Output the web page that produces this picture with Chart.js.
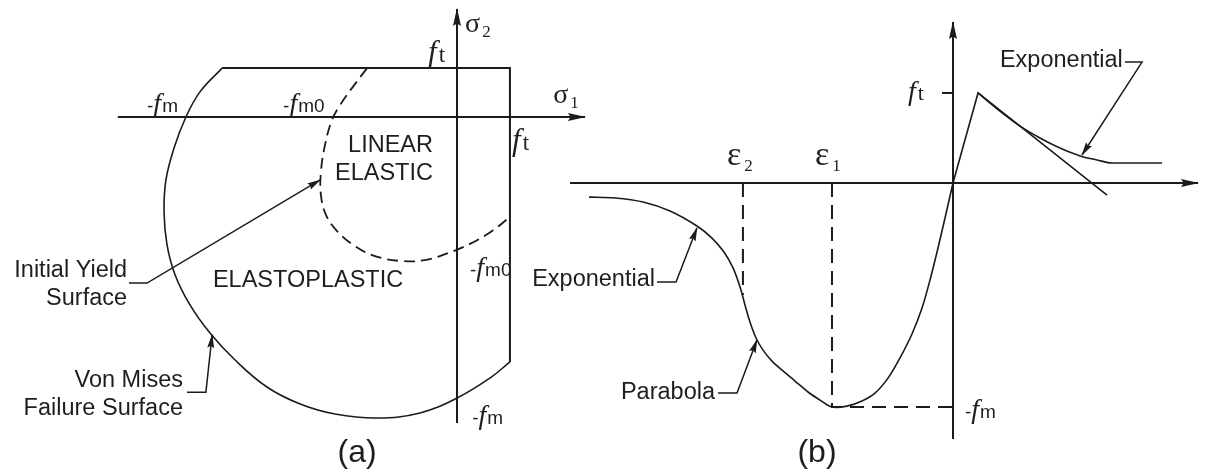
<!DOCTYPE html>
<html>
<head>
<meta charset="utf-8">
<script src="https://cdn.jsdelivr.net/npm/chart.js@4.4.1/dist/chart.umd.min.js"></script>
<style>
  html, body { margin: 0; padding: 0; background: #ffffff; }
  #stage { position: relative; width: 1210px; height: 472px; overflow: hidden; }
  #stage canvas { position: absolute; top: 0; }
  #cvA { left: 0; }
  #cvB { left: 500px; }
</style>
</head>
<body>
<div id="stage">
  <canvas id="cvA" width="600" height="472"></canvas>
  <canvas id="cvB" width="710" height="472"></canvas>
</div>
<script>
// ---------- (a) biaxial stress plane, stresses normalised by fm ----------
// [sigma1, sigma2]
const sigma1Axis = [[-1.256, 0], [0.474, 0]];
const sigma2Axis = [[0, -1.133], [0, 0.400]];
const tensionCutoff = [[-0.870, 0.181], [0.196, 0.181], [0.196, -0.907]];
const vonMisesFailure = [
  [-0.870, 0.181], [-0.952, 0.093], [-1.004, 0.000], [-1.048, -0.115],
  [-1.078, -0.233], [-1.085, -0.352], [-1.074, -0.474], [-1.044, -0.585],
  [-0.989, -0.696], [-0.915, -0.800], [-0.822, -0.900], [-0.704, -1.000],
  [-0.581, -1.063], [-0.452, -1.100], [-0.296, -1.115], [-0.137, -1.096],
  [0.000, -1.041], [0.122, -0.967], [0.196, -0.907]
];
const initialYield = [
  [-0.333, 0.181], [-0.389, 0.107], [-0.433, 0.044], [-0.463, -0.011],
  [-0.489, -0.104], [-0.504, -0.204], [-0.504, -0.289], [-0.485, -0.363],
  [-0.441, -0.426], [-0.378, -0.478], [-0.304, -0.515], [-0.211, -0.533],
  [-0.119, -0.530], [-0.033, -0.504], [0.048, -0.470], [0.130, -0.422],
  [0.196, -0.370]
];
const leaderYield = [[-1.215, -0.615], [-1.148, -0.615], [-0.507, -0.233]];
const leaderVonMises = [[-1.000, -1.019], [-0.930, -1.019], [-0.907, -0.807]];

// ---------- (b) uniaxial stress-strain law, strain / |eps1|, stress / fm ----------
// [strain, stress]
const strainAxis = [[-3.165, 0], [2.025, 0]];
const stressAxis = [[0, -1.143], [0, 0.719]];
const compressionBranch = [
  [-3.008, -0.063], [-2.793, -0.067], [-2.562, -0.085], [-2.339, -0.125],
  [-2.116, -0.192], [-1.992, -0.246], [-1.893, -0.308], [-1.818, -0.379],
  [-1.760, -0.464], [-1.719, -0.545], [-1.678, -0.621], [-1.628, -0.692],
  [-1.570, -0.746], [-1.496, -0.795], [-1.405, -0.839], [-1.306, -0.884],
  [-1.198, -0.933], [-1.099, -0.969], [-1.000, -1.000], [-0.876, -0.996],
  [-0.752, -0.973], [-0.645, -0.938], [-0.537, -0.871], [-0.438, -0.781],
  [-0.339, -0.674], [-0.256, -0.558], [-0.190, -0.433], [-0.132, -0.308],
  [-0.066, -0.156], [0.000, 0.000]
];
const tensionLinear = [[0.000, 0.000], [0.207, 0.402], [1.273, -0.054]];
const tensionExponential = [
  [0.207, 0.402], [0.388, 0.321], [0.554, 0.254], [0.719, 0.201],
  [0.884, 0.156], [1.050, 0.121], [1.190, 0.103], [1.314, 0.089], [1.727, 0.089]
];
const ftTick = [[-0.091, 0.402], [0, 0.402]];
const eps2Guide = [[-1.736, 0], [-1.736, -0.500]];
const eps1Guide = [[-1, 0], [-1, -1], [0, -1]];
const leaderExpLeft = [[-2.446, -0.442], [-2.289, -0.442], [-2.116, -0.201]];
const leaderParabola = [[-1.942, -0.938], [-1.785, -0.938], [-1.620, -0.701]];
const leaderExpTop = [[1.421, 0.540], [1.562, 0.540], [1.066, 0.125]];

// ---------- text ----------
const FONTS = {
  greek: '28px "Liberation Serif"',
  greekB: '34px "Liberation Serif"',
  sub: '17px "Liberation Serif"',
  fBig: 'italic 31px "Liberation Serif"',
  tBig: '23px "Liberation Serif"',
  fMid: 'italic 28px "Liberation Serif"',
  tMid: '22px "Liberation Serif"',
  dash: '19px "Liberation Sans"',
  subSans: '19px "Liberation Sans"',
  label: '23.5px "Liberation Sans"',
  panel: '32px "Liberation Sans"'
};
// parts: [text, font, dy, dx]
const notesA = [
  { x: 0.030, y: 0.315, align: 'left', parts: [['σ', 'greek'], ['2', 'sub', 5, 2]] },
  { x: 0.356, y: 0.052, align: 'left', parts: [['σ', 'greek'], ['1', 'sub', 5, 2]] },
  { x: -0.107, y: 0.204, align: 'left', parts: [['f', 'fBig'], ['t', 'tBig', 0, 2]] },
  { x: 0.204, y: -0.122, align: 'left', parts: [['f', 'fBig'], ['t', 'tBig', 0, 2]] },
  { x: -1.148, y: 0.019, align: 'left', parts: [['-', 'dash'], ['f', 'fMid'], ['m', 'subSans', 0, 1]] },
  { x: -0.644, y: 0.019, align: 'left', parts: [['-', 'dash'], ['f', 'fMid'], ['m0', 'subSans', 0, 1]] },
  { x: 0.048, y: -0.589, align: 'left', parts: [['-', 'dash'], ['f', 'fMid'], ['m0', 'subSans', 0, 1]] },
  { x: 0.056, y: -1.137, align: 'left', parts: [['-', 'dash'], ['f', 'fMid'], ['m', 'subSans', 0, 1]] },
  { x: -0.089, y: -0.130, align: 'right', parts: [['LINEAR', 'label']] },
  { x: -0.089, y: -0.233, align: 'right', parts: [['ELASTIC', 'label']] },
  { x: -0.904, y: -0.630, align: 'left', parts: [['ELASTOPLASTIC', 'label']] },
  { x: -1.222, y: -0.593, align: 'right', parts: [['Initial Yield', 'label']] },
  { x: -1.222, y: -0.696, align: 'right', parts: [['Surface', 'label']] },
  { x: -1.015, y: -1.000, align: 'right', parts: [['Von Mises', 'label']] },
  { x: -1.015, y: -1.104, align: 'right', parts: [['Failure Surface', 'label']] },
  { x: -0.370, y: -1.278, align: 'center', parts: [['(a)', 'panel']] }
];
const notesB = [
  { x: -1.868, y: 0.080, align: 'left', parts: [['ε', 'greekB'], ['2', 'sub', 6, 3]] },
  { x: -1.140, y: 0.080, align: 'left', parts: [['ε', 'greekB'], ['1', 'sub', 6, 3]] },
  { x: -0.372, y: 0.371, align: 'left', parts: [['f', 'fMid'], ['t', 'tMid', 0, 2]] },
  { x: 0.099, y: -1.049, align: 'left', parts: [['-', 'dash'], ['f', 'fMid'], ['m', 'subSans', 0, 1]] },
  { x: 0.388, y: 0.518, align: 'left', parts: [['Exponential', 'label']] },
  { x: -2.463, y: -0.460, align: 'right', parts: [['Exponential', 'label']] },
  { x: -1.967, y: -0.964, align: 'right', parts: [['Parabola', 'label']] },
  { x: -1.124, y: -1.246, align: 'center', parts: [['(b)', 'panel']] }
];

const INK = '#1b1b1b';
const toPoints = arr => arr.map(([x, y]) => ({ x, y }));

function series(arr, extra) {
  return Object.assign({
    data: toPoints(arr),
    showLine: true,
    pointRadius: 0,
    pointHoverRadius: 0,
    borderColor: INK,
    borderWidth: 1.6,
    tension: 0,
    fill: false
  }, extra || {});
}

// filled, slender arrowheads at the last point of any series flagged with `arrow`
const arrowHeads = {
  id: 'arrowHeads',
  afterDatasetsDraw(chart) {
    const ctx = chart.ctx;
    chart.data.datasets.forEach((ds, i) => {
      if (!ds.arrow) return;
      const els = chart.getDatasetMeta(i).data;
      const tip = els[els.length - 1], prev = els[els.length - 2];
      const ang = Math.atan2(tip.y - prev.y, tip.x - prev.x);
      const L = ds.arrow.len, W = ds.arrow.half;
      ctx.save();
      ctx.translate(tip.x, tip.y);
      ctx.rotate(ang);
      ctx.fillStyle = INK;
      ctx.beginPath();
      ctx.moveTo(1, 0);
      ctx.lineTo(-L, W);
      ctx.lineTo(-L * 0.85, 0);
      ctx.lineTo(-L, -W);
      ctx.closePath();
      ctx.fill();
      ctx.restore();
    });
  }
};

function textLayer(notes) {
  return {
    id: 'textLayer',
    afterDatasetsDraw(chart) {
      const ctx = chart.ctx;
      const sx = chart.scales.x, sy = chart.scales.y;
      ctx.save();
      ctx.fillStyle = '#1e1e1e';
      ctx.textBaseline = 'alphabetic';
      notes.forEach(n => {
        const parts = n.parts.map(p => ({ text: p[0], font: FONTS[p[1]], dy: p[2] || 0, dx: p[3] || 0 }));
        let w = 0;
        parts.forEach(p => { ctx.font = p.font; p.w = ctx.measureText(p.text).width; w += p.w + p.dx; });
        let px = sx.getPixelForValue(n.x);
        const py = sy.getPixelForValue(n.y);
        if (n.align === 'right') px -= w;
        else if (n.align === 'center') px -= w / 2;
        parts.forEach(p => {
          px += p.dx;
          ctx.font = p.font;
          ctx.fillText(p.text, px, py + p.dy);
          px += p.w;
        });
      });
      ctx.restore();
    }
  };
}

function baseOptions(xr, yr) {
  return {
    responsive: false,
    animation: false,
    events: [],
    layout: { padding: 0 },
    plugins: { legend: { display: false }, tooltip: { enabled: false } },
    scales: {
      x: { type: 'linear', min: xr[0], max: xr[1], display: false },
      y: { type: 'linear', min: yr[0], max: yr[1], display: false }
    }
  };
}

const AXIS_ARROW = { len: 17, half: 4 };
const LEAD_ARROW = { len: 13, half: 3.5 };

new Chart(document.getElementById('cvA'), {
  type: 'scatter',
  data: {
    datasets: [
      series(sigma1Axis, { borderWidth: 2, arrow: AXIS_ARROW }),
      series(sigma2Axis, { borderWidth: 2, arrow: AXIS_ARROW }),
      series(tensionCutoff, { borderWidth: 2 }),
      series(vonMisesFailure, { tension: 0.4, borderWidth: 1.6 }),
      series(initialYield, { tension: 0.4, borderWidth: 1.8, borderDash: [11, 6] }),
      series(leaderYield, { borderWidth: 1.5, arrow: LEAD_ARROW }),
      series(leaderVonMises, { borderWidth: 1.5, arrow: LEAD_ARROW })
    ]
  },
  options: baseOptions([-1.6926, 0.5296], [-1.3148, 0.4333]),
  plugins: [arrowHeads, textLayer(notesA)]
});

new Chart(document.getElementById('cvB'), {
  type: 'scatter',
  data: {
    datasets: [
      series(strainAxis, { borderWidth: 2, arrow: AXIS_ARROW }),
      series(stressAxis, { borderWidth: 2, arrow: AXIS_ARROW }),
      series(ftTick, { borderWidth: 2 }),
      series(eps2Guide, { borderWidth: 2, borderDash: [14, 8] }),
      series(eps1Guide, { borderWidth: 2, borderDash: [14, 8] }),
      series(compressionBranch, { tension: 0.3, borderWidth: 1.6 }),
      series(tensionLinear, { borderWidth: 1.6 }),
      series(tensionExponential, { cubicInterpolationMode: 'monotone', borderWidth: 1.6 }),
      series(leaderExpLeft, { borderWidth: 1.5, arrow: LEAD_ARROW }),
      series(leaderParabola, { borderWidth: 1.5, arrow: LEAD_ARROW }),
      series(leaderExpTop, { borderWidth: 1.5, arrow: LEAD_ARROW })
    ]
  },
  options: baseOptions([-3.7438, 2.1240], [-1.2902, 0.8170]),
  plugins: [arrowHeads, textLayer(notesB)]
});
</script>
</body>
</html>
